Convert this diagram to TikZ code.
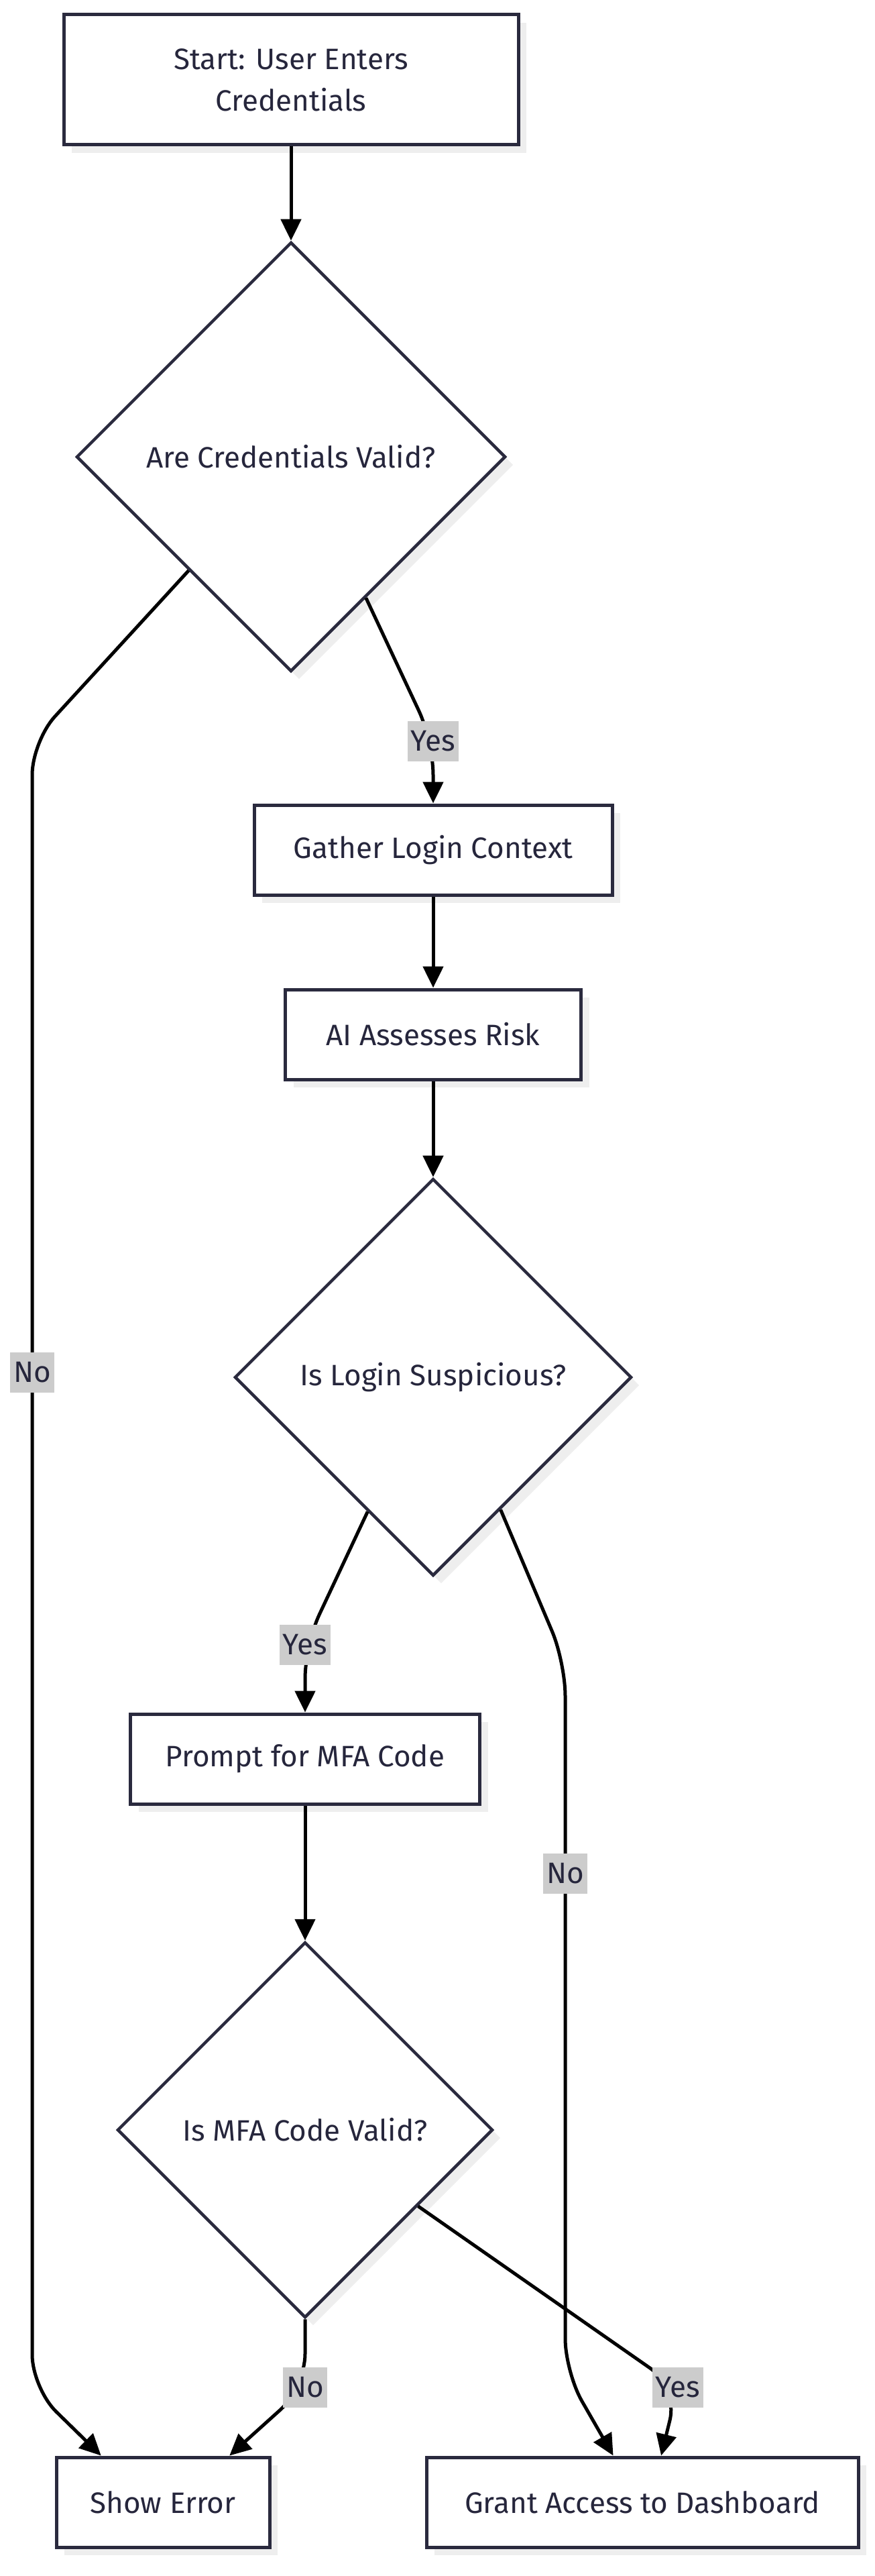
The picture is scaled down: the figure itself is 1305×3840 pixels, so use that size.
\documentclass[tikz,border=0pt]{standalone}
\usepackage{fontspec}
\setmainfont{Fira Sans}
\usetikzlibrary{shapes.geometric,arrows.meta,shadows}
\definecolor{nodeline}{RGB}{42,42,62}
\definecolor{nodetext}{RGB}{38,38,60}
\definecolor{lblgray}{RGB}{204,204,204}
\definecolor{shadowgray}{RGB}{238,238,238}
\begin{document}
\begin{tikzpicture}[x=1pt,y=-1pt,
	procbox/.style={rectangle,draw=nodeline,line width=5pt,fill=white,text=nodetext,minimum height=134pt,inner sep=0pt,align=center,font=\fontsize{44}{62}\selectfont,drop shadow={shadow xshift=12pt,shadow yshift=-12pt,fill=shadowgray,opacity=1}},
	decide/.style={diamond,aspect=1,draw=nodeline,line width=4.5pt,fill=white,text=nodetext,inner sep=0pt,font=\fontsize{44}{52}\selectfont,drop shadow={shadow xshift=12pt,shadow yshift=-12pt,fill=shadowgray,opacity=1}},
	flow/.style={draw=black,line width=5pt,-{Triangle[length=32pt,width=30pt]},rounded corners=50pt},
	lbl/.style={sharp corners,fill=lblgray,text=nodetext,inner sep=5pt,minimum height=60pt,font=\fontsize{44}{52}\selectfont}]
	\useasboundingbox (0,0) rectangle (1305,3840);
	\node (start) at (434,119) [procbox,minimum width=678pt,minimum height=194pt] {Start: User Enters\\Credentials};
	\node (valid) at (434,681) [decide,minimum size=640pt] {Are Credentials Valid?};
	\node (gather) at (646,1267) [procbox,minimum width=534pt] {Gather Login Context};
	\node (risk) at (646,1542) [procbox,minimum width=441pt] {AI Assesses Risk};
	\node (suspicious) at (646,2053) [decide,minimum size=592pt] {Is Login Suspicious?};
	\node (prompt) at (455,2622) [procbox,minimum width=521pt] {Prompt for MFA Code};
	\node (mfavalid) at (455,3175) [decide,minimum size=560pt] {Is MFA Code Valid?};
	\node (error) at (243,3730) [procbox,minimum width=318pt] {Show Error};
	\node (grant) at (958,3730) [procbox,minimum width=644pt] {Grant Access to Dashboard};
	\draw[flow] (start) -- (valid);
	\draw[flow] (valid.-62) -- (646,1105) node[lbl] {Yes} -- (gather);
	\draw[flow] (valid.-132) -- (48,1105) -- (48,2046) node[lbl] {No} -- (48,3560) -- (error.143);
	\draw[flow] (gather) -- (risk);
	\draw[flow] (risk) -- (suspicious);
	\draw[flow] (suspicious.-116) -- (455,2452) node[lbl] {Yes} -- (prompt);
	\draw[flow] (suspicious.-63) -- (843,2478) -- (843,2793) node[lbl] {No} -- (843,3536) -- (grant.122);
	\draw[flow] (prompt) -- (mfavalid);
	\draw[flow] (mfavalid.south) -- (455,3559) node[lbl] {No} -- (error.35);
	\draw[flow] (mfavalid.-34) -- (1011,3559) node[lbl] {Yes} -- (grant.68);
\end{tikzpicture}
\end{document}
